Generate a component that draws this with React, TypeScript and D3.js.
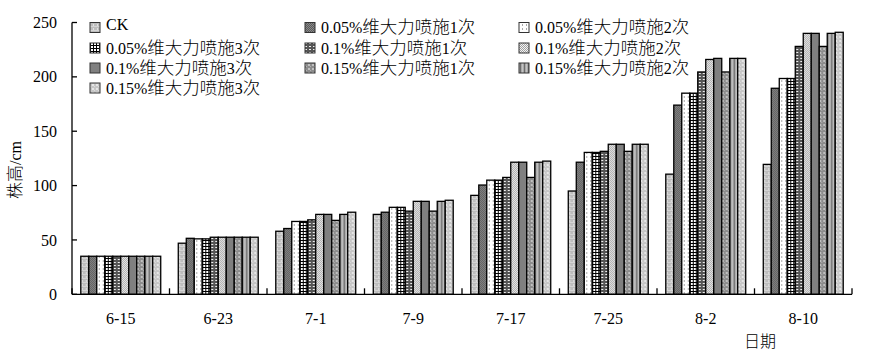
import React from 'react';
import * as d3 from 'd3';

const dates = ['6-15', '6-23', '7-1', '7-9', '7-17', '7-25', '8-2', '8-10'];

const seriesNames = [
  'CK',
  '0.05%维大力喷施1次',
  '0.05%维大力喷施2次',
  '0.05%维大力喷施3次',
  '0.1%维大力喷施1次',
  '0.1%维大力喷施2次',
  '0.1%维大力喷施3次',
  '0.15%维大力喷施1次',
  '0.15%维大力喷施2次',
  '0.15%维大力喷施3次',
];

// plant height (cm) per date, one array per treatment
const ck = [35, 47, 58, 73.5, 91, 95, 110.5, 119.5];
const v05x1 = [35, 51.5, 60.5, 75.5, 100.5, 121.5, 174, 189.5];
const v05x2 = [35, 51, 67, 80, 105, 130.5, 185, 198.5];
const v05x3 = [35, 51, 67, 80, 105, 130.5, 185, 198.5];
const v1x1 = [35, 52.5, 68.5, 76.5, 107.5, 131.5, 204.5, 228];
const v1x2 = [35, 52.5, 73.5, 85.5, 121.5, 138, 216, 240];
const v1x3 = [35, 52.5, 73.5, 85.5, 121.5, 138, 217, 240];
const v15x1 = [35, 52.5, 68, 76.5, 107.5, 131.5, 204.5, 228];
const v15x2 = [35, 52.5, 73.5, 85.5, 121.5, 138, 217, 240];
const v15x3 = [35, 52.5, 75.5, 86.5, 122.5, 138, 217, 241];

const seriesValues = [ck, v05x1, v05x2, v05x3, v1x1, v1x2, v1x3, v15x1, v15x2, v15x3];

const yTicks = [0, 50, 100, 150, 200, 250];

const font = '"Liberation Serif", "Noto Sans CJK SC", serif';
const cjkFont = '"Noto Sans CJK SC", sans-serif';

// split latin / CJK runs so the CJK part can be sized like the original
const MixedText = ({ text, cjkSize = 17.5 }: { text: string; cjkSize?: number }) => {
  const runs = text.match(/[\u4e00-\u9fff]+|[^\u4e00-\u9fff]+/g) || [];
  return (
    <>
      {runs.map((r, i) =>
        /[\u4e00-\u9fff]/.test(r) ? (
          <tspan key={i} fontFamily={cjkFont} fontSize={cjkSize} fontWeight={300}>{r}</tspan>
        ) : (
          <tspan key={i}>{r}</tspan>
        )
      )}
    </>
  );
};

const Patterns = () => (
  <defs>
    <pattern id="p0" width="4" height="4" patternUnits="userSpaceOnUse">
      <rect width="4" height="4" fill="#bdbdbd" />
      <rect x="1" y="0" width="1" height="2" fill="#e2e2e2" />
      <rect x="0" y="2" width="4" height="1" fill="#d4d4d4" />
    </pattern>
    <pattern id="p1" width="2" height="2" patternUnits="userSpaceOnUse">
      <rect width="2" height="2" fill="#5a5a5a" />
      <rect x="0" y="0" width="1" height="1" fill="#8a8a8a" />
      <rect x="1" y="1" width="1" height="1" fill="#8a8a8a" />
    </pattern>
    <pattern id="p2" width="4" height="4" patternUnits="userSpaceOnUse">
      <rect width="4" height="4" fill="#ffffff" />
      <rect x="2" y="0" width="1" height="2" fill="#a8a8a8" />
    </pattern>
    <pattern id="p3" width="3" height="3" patternUnits="userSpaceOnUse">
      <rect width="3" height="3" fill="#ffffff" />
      <rect x="0" y="0" width="1" height="3" fill="#000000" />
      <rect x="0" y="0" width="3" height="1" fill="#000000" />
    </pattern>
    <pattern id="p4" width="4" height="3" patternUnits="userSpaceOnUse">
      <rect width="4" height="3" fill="#555555" />
      <rect x="1" y="1" width="2" height="1" fill="#f0f0f0" />
    </pattern>
    <pattern id="p5" width="2" height="2" patternUnits="userSpaceOnUse">
      <rect width="2" height="2" fill="#f4f4f4" />
      <rect x="0" y="0" width="1" height="1" fill="#a0a0a0" />
      <rect x="1" y="1" width="1" height="1" fill="#a0a0a0" />
    </pattern>
    <pattern id="p6" width="4" height="4" patternUnits="userSpaceOnUse">
      <rect width="4" height="4" fill="#808080" />
    </pattern>
    <pattern id="p7" width="4" height="4" patternUnits="userSpaceOnUse">
      <rect width="4" height="4" fill="#8c8c8c" />
      <rect x="0" y="0" width="2" height="2" fill="#c0c0c0" />
      <rect x="2" y="2" width="1" height="1" fill="#b0b0b0" />
    </pattern>
    <pattern id="p8" width="4" height="4" patternUnits="userSpaceOnUse">
      <rect width="4" height="4" fill="#a8a8a8" />
      <rect x="0" y="0" width="1" height="4" fill="#6c6c6c" />
      <rect x="2" y="0" width="1" height="4" fill="#c4c4c4" />
    </pattern>
    <pattern id="p9" width="4" height="4" patternUnits="userSpaceOnUse">
      <rect width="4" height="4" fill="#c6c6c6" />
      <rect x="0" y="0" width="2" height="2" fill="#e6e6e6" />
      <rect x="2" y="2" width="1" height="1" fill="#dcdcdc" />
    </pattern>
  </defs>
);

const App = () => {
  const left = 72;
  const right = 852;
  const top = 22.5;
  const bottom = 294.3;

  const x0 = d3.scaleBand<string>().domain(dates).range([left, right]).paddingInner(0.18).paddingOuter(0.09);
  const x1 = d3.scaleBand<number>().domain(d3.range(seriesNames.length)).range([0, x0.bandwidth()]);
  const y = d3.scaleLinear().domain([0, 250]).range([bottom, top]);

  const legendCols = [90, 305, 519];
  const legendRows = [22.5, 43, 63, 83];

  return (
    <svg width={872} height={364} style={{ position: 'absolute', left: 0, top: 0, background: '#fff' }}>
      <Patterns />

      {/* bars */}
      {dates.map((d, i) => (
        <g key={d} transform={`translate(${x0(d)},0)`}>
          {seriesValues.map((vals, s) => (
            <rect
              key={s}
              x={x1(s)}
              y={y(vals[i])}
              width={x1.bandwidth()}
              height={y(0) - y(vals[i])}
              fill={`url(#p${s})`}
              stroke="#000"
              strokeWidth={1.3}
            />
          ))}
        </g>
      ))}

      {/* y axis */}
      <line x1={left} x2={left} y1={y(250)} y2={y(0)} stroke="#000" strokeWidth={1.3} />
      {yTicks.map((t) => (
        <g key={t}>
          <line x1={left} x2={left + 5} y1={y(t)} y2={y(t)} stroke="#000" strokeWidth={1.3} />
          <text x={57} y={y(t)} dy="0.35em" textAnchor="end" fontFamily={font} fontSize={16} fill="#000">
            {t}
          </text>
        </g>
      ))}

      {/* x axis */}
      <line x1={left} x2={right} y1={bottom} y2={bottom} stroke="#000" strokeWidth={1.3} />
      {d3.range(dates.length + 1).map((k) => {
        const xx = left + x0.step() * k;
        return <line key={k} x1={xx} x2={xx} y1={bottom} y2={bottom - 6} stroke="#000" strokeWidth={1.3} />;
      })}
      {dates.map((d) => (
        <text key={d} x={(x0(d) as number) + x0.bandwidth() / 2} y={324} textAnchor="middle" fontFamily={font} fontSize={16} fill="#000">
          {d}
        </text>
      ))}
      <text x={760} y={347} textAnchor="middle" fontFamily={font} fontSize={16} fill="#000">
        <MixedText text="日期" cjkSize={16} />
      </text>

      <text transform="translate(21,170) rotate(-90)" textAnchor="middle" fontFamily={font} fontSize={16} fill="#000">
        <MixedText text="株高/cm" cjkSize={17} />
      </text>

      {/* legend */}
      {seriesNames.map((name, s) => {
        const col = s % 3;
        const row = Math.floor(s / 3);
        const lx = legendCols[col];
        const ly = legendRows[row];
        return (
          <g key={name}>
            <rect x={lx} y={ly} width={10} height={10} fill={`url(#p${s})`} stroke="#333" strokeWidth={1} />
            <text x={lx + 16} y={s === 0 ? ly + 7.5 : ly + 10.5} fontFamily={font} fontSize={16} fill="#000">
              <MixedText text={name} />
            </text>
          </g>
        );
      })}
    </svg>
  );
};

export default App;
